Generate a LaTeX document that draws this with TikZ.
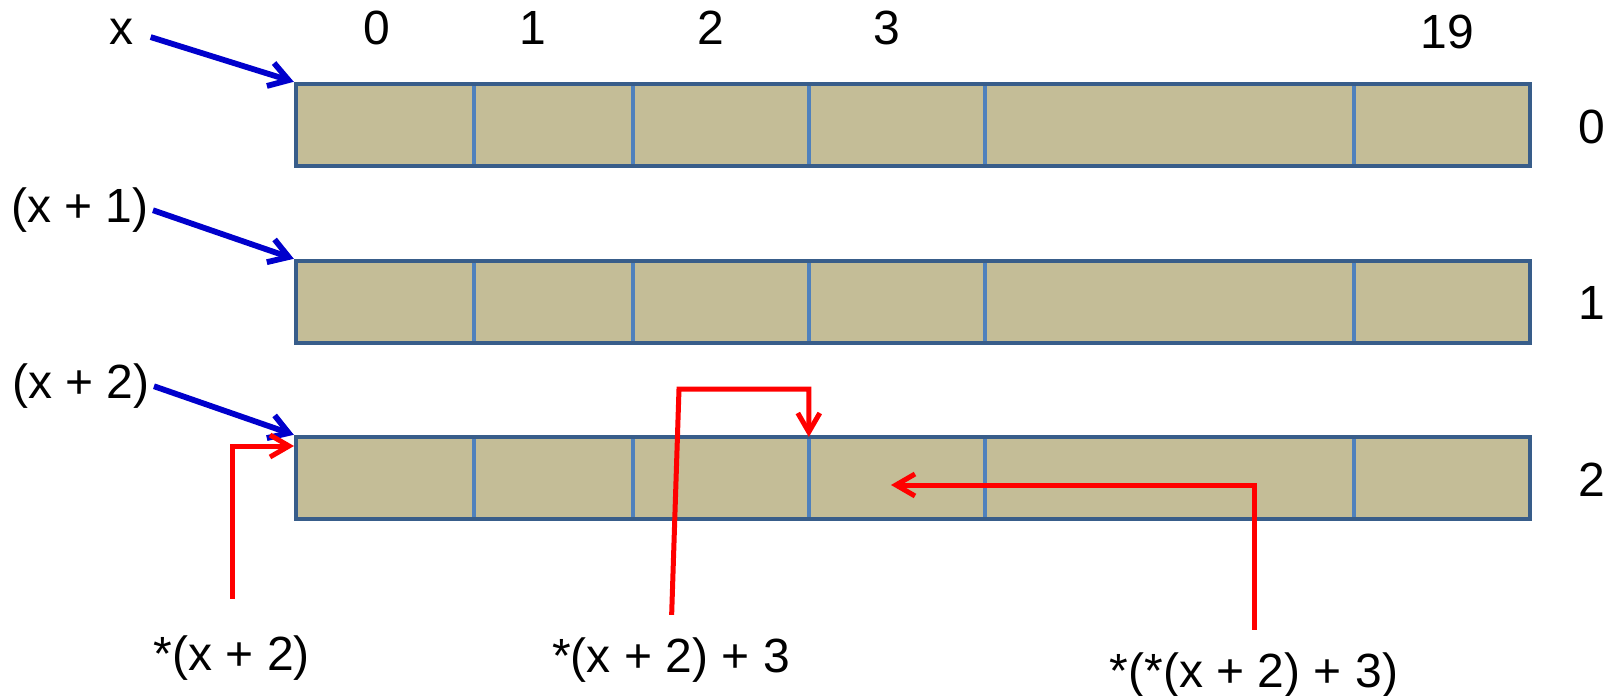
\documentclass[tikz,border=0pt]{standalone}
\usepackage{fontspec}
\setmainfont{Liberation Sans}
\usepackage{xcolor}
\usetikzlibrary{arrows.meta,positioning,fit}

\definecolor{celltan}{RGB}{196,189,151}
\definecolor{rowedge}{RGB}{56,93,138}
\definecolor{cellline}{RGB}{79,129,189}
\definecolor{ptrblue}{RGB}{0,0,204}
\definecolor{derefred}{RGB}{255,0,0}

\begin{document}
\begin{tikzpicture}[
    x=0.5pt, y=-0.5pt,
    lbl/.style={font=\fontsize{24}{28}\selectfont, inner sep=1pt, anchor=base},
    cell/.style={fill=celltan, inner sep=0pt, minimum height=40.5pt, anchor=north west},
    rowbox/.style={draw=rowedge, line width=2.2pt, inner sep=0pt},
    divider/.style={draw=cellline, line width=2pt},
    ptr/.style={-{Straight Barb[length=9.5pt,width=12pt]}, draw=ptrblue, line width=2.9pt},
    deref/.style={-{Straight Barb[length=9.5pt,width=11pt]}, draw=derefred, line width=2.5pt}
]
\useasboundingbox (0,0) rectangle (1618,696);

% three rows of the array
\foreach \r/\yt in {0/84, 1/261, 2/437}{
  \foreach \k/\xa/\xb in {0/296/473, 1/473/632, 2/632/808, 3/808/984, 4/984/1353, 5/1353/1529}
    \node[cell, minimum width={(\xb-\xa)*0.5pt}] (c\r\k) at (\xa,\yt) {};
  \foreach \k in {0,...,4}
    \draw[divider] (c\r\k.north east) -- (c\r\k.south east);
  \node[rowbox, fit=(c\r0)(c\r5)] (row\r) {};
}

% column and row indices
\node[lbl] (col0) at (377,45) {0};
\node[lbl] (col1) at (533,45) {1};
\node[lbl] (col2) at (711,45) {2};
\node[lbl] (col3) at (887,45) {3};
\node[lbl] (col19) at (1447,48) {19};
\node[lbl] (idx0) at (1592,143) {0};
\node[lbl] (idx1) at (1592,319) {1};
\node[lbl] (idx2) at (1592,496) {2};

% pointer names
\node[lbl] (px) at (121,45) {x};
\node[lbl] (px1) at (80,222) {(x + 1)};
\node[lbl] (px2) at (81,398) {(x + 2)};

\draw[ptr, shorten <=8pt] (px.east) -- (row0.north west);
\draw[ptr, shorten <=1pt] (px1.east) -- (row1.north west);
\draw[ptr, shorten <=1pt] (px2.east) -- (row2.north west);

% dereferenced expressions
\node[lbl] (d1) at (232,670) {*(x + 2)};
\node[lbl] (d2) at (671,672) {*(x + 2) + 3};
\node[lbl] (d3) at (1254,687) {*(*(x + 2) + 3)};

\coordinate (tip1) at (294,446);
\coordinate (bend2) at (679,389);
\coordinate (tip3) at (891,485);

\draw[deref, shorten <=17pt] (d1.north) |- (tip1);
\draw[deref, shorten <=10pt] (d2.north) -- (bend2) -| (c22.north east);
\draw[deref, shorten <=10pt] (d3.north) |- (tip3);
\end{tikzpicture}
\end{document}
